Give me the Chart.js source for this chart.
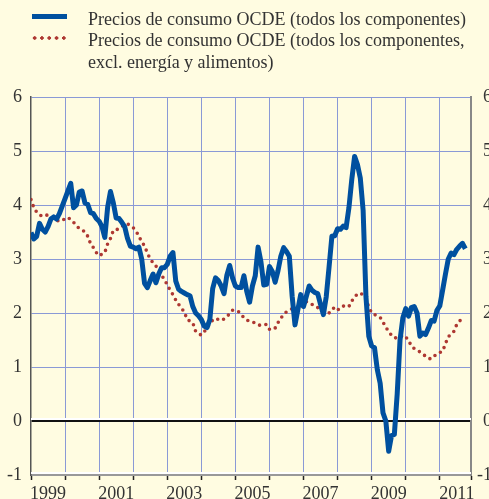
<!DOCTYPE html>
<html>
<head>
<meta charset="utf-8">
<script src="https://cdn.jsdelivr.net/npm/chart.js@4.4.0/dist/chart.umd.min.js"></script>
<style>
  html, body { margin: 0; padding: 0; overflow: hidden; background: #fffce1; }
  #wrap { position: relative; width: 492px; height: 499px; }
  #legend { position: absolute; left: 0; top: 0; width: 489px; height: 80px;
    font-family: "Liberation Serif", "DejaVu Serif", serif; font-size: 18px; color: #333; }
  .swatch-blue { position: absolute; left: 32px; top: 14px; width: 35px; height: 5px; background: #00509f; }
  .swatch-red { position: absolute; left: 31px; top: 35.5px; width: 36px; height: 4.5px;
    background-image: radial-gradient(circle, #ae3832 1.7px, transparent 2.1px); background-size: 7.3px 4.5px; }
  .legend-text { position: absolute; left: 88px; top: 8.5px; line-height: 21.7px; white-space: nowrap; }
</style>
</head>
<body>
<div id="wrap">
  <canvas id="cpiChart" width="492" height="499"></canvas>
  <div id="legend">
    <div class="swatch-blue"></div>
    <div class="swatch-red"></div>
    <div class="legend-text">
      Precios de consumo OCDE (todos los componentes)<br>
      Precios de consumo OCDE (todos los componentes,<br>
      excl. energía y alimentos)
    </div>
  </div>
</div>
<script>
// monthly values, January 1999 onwards (annual % change)
const headline = [
  3.49, 3.37, 3.42, 3.66, 3.55, 3.5, 3.6, 3.74, 3.78, 3.74, 3.84, 3.98,
  4.12, 4.26, 4.4, 3.95, 4.0, 4.24, 4.26, 4.04, 4.01, 3.86, 3.84, 3.75,
  3.7, 3.6, 3.4, 3.96, 4.25, 4.04, 3.76, 3.75, 3.68, 3.6, 3.38, 3.24,
  3.22, 3.19, 3.22, 3.0, 2.55, 2.47, 2.6, 2.72, 2.56, 2.72, 2.84, 2.84,
  2.9, 3.05, 3.12, 2.59, 2.44, 2.4, 2.37, 2.34, 2.32, 2.12, 2.0, 1.95,
  1.88, 1.76, 1.73, 1.88, 2.45, 2.65, 2.6, 2.5, 2.36, 2.7, 2.88, 2.65,
  2.5, 2.47, 2.47, 2.69, 2.4, 2.2, 2.5, 2.69, 3.22, 2.95, 2.52, 2.53,
  2.86, 2.77, 2.57, 2.78, 3.05, 3.21, 3.14, 3.05, 2.31, 1.78, 2.06, 2.34,
  2.12, 2.31, 2.5, 2.42, 2.38, 2.36, 2.16, 1.97, 2.3, 2.85, 3.42, 3.43,
  3.56, 3.55, 3.61, 3.58, 3.95, 4.47, 4.9, 4.75, 4.5, 3.9, 2.3, 1.57,
  1.39, 1.36, 0.95, 0.7, 0.15, 0.0, -0.56, -0.27, -0.25, 0.5, 1.5, 1.91,
  2.08, 1.94, 2.1, 2.12, 2.0, 1.57, 1.63, 1.6, 1.72, 1.86, 1.85, 2.05,
  2.13, 2.42, 2.72, 3.0, 3.11, 3.08, 3.18, 3.24, 3.29, 3.19
];
const core = [
  4.1, 3.95, 3.87, 3.82, 3.79, 3.8, 3.82, 3.79, 3.75, 3.72, 3.7, 3.71,
  3.75, 3.77, 3.73, 3.68, 3.61, 3.57, 3.54, 3.5, 3.42, 3.28, 3.21, 3.12,
  3.06, 3.09, 3.12, 3.28, 3.38, 3.53, 3.54, 3.56, 3.6, 3.64, 3.65, 3.62,
  3.58, 3.52, 3.42, 3.32, 3.24, 3.11, 3.0, 2.93, 2.87, 2.8, 2.71, 2.61,
  2.53, 2.42, 2.34, 2.24, 2.16, 2.09, 2.02, 1.88, 1.85, 1.82, 1.66, 1.62,
  1.59, 1.65, 1.72, 1.8, 1.87, 1.9, 1.88, 1.86, 1.89, 1.93, 1.99, 2.05,
  2.05, 2.03, 1.98, 1.91, 1.87, 1.85, 1.84, 1.81, 1.78, 1.77, 1.78, 1.79,
  1.7, 1.69, 1.72, 1.82, 1.9, 1.98, 2.02, 2.05, 2.08, 2.11, 2.1, 2.08,
  2.17, 2.21, 2.19, 2.16, 2.12, 2.1, 2.08, 2.05, 2.02, 2.0, 2.06, 2.11,
  2.06, 2.08, 2.13, 2.11, 2.12, 2.22, 2.3, 2.35, 2.37, 2.33, 2.25, 2.11,
  2.0, 1.97, 1.95, 1.92, 1.83, 1.74, 1.65, 1.59, 1.54, 1.54, 1.55, 1.59,
  1.56, 1.49, 1.39, 1.34, 1.31, 1.28, 1.24, 1.2, 1.16, 1.15, 1.2, 1.24,
  1.27, 1.29, 1.43, 1.56, 1.61, 1.66, 1.79, 1.85, 1.91
];
const yearLabels = ["1999", "2001", "2003", "2005", "2007", "2009", "2011"];
const yTicks = [-1, 0, 1, 2, 3, 4, 5, 6];

const GRID = "#8a99d6";
const FONT = { family: "'Liberation Serif', 'DejaVu Serif', serif", size: 18 };
const LAST_MONTH = 155;

// white highlight lines above the zero line and the bottom axis
const axisHighlights = {
  id: "axisHighlights",
  beforeDatasetsDraw(chart) {
    const { ctx, chartArea, scales } = chart;
    const y0 = scales.y.getPixelForValue(0);
    ctx.save();
    ctx.strokeStyle = "#ffffff";
    ctx.lineWidth = 2;
    ctx.beginPath();
    ctx.moveTo(chartArea.left, y0 - 2);
    ctx.lineTo(chartArea.right, y0 - 2);
    ctx.moveTo(chartArea.left, chartArea.bottom - 2);
    ctx.lineTo(chartArea.right, chartArea.bottom - 2);
    ctx.stroke();
    ctx.restore();
  },
};

const ctx = document.getElementById("cpiChart").getContext("2d");
new Chart(ctx, {
  type: "line",
  data: {
    datasets: [
      {
        label: "Precios de consumo OCDE (todos los componentes)",
        data: headline.map((v, i) => ({ x: i, y: v })),
        borderColor: "#00509f",
        borderWidth: 5,
        borderJoinStyle: "round",
        pointRadius: 0,
        tension: 0,
        order: 1,
      },
      {
        label: "Precios de consumo OCDE (todos los componentes, excl. energía y alimentos)",
        data: core.map((v, i) => ({ x: i, y: v })),
        borderColor: "#ae3832",
        borderWidth: 3.6,
        borderDash: [0, 6.4],
        borderCapStyle: "round",
        pointRadius: 0,
        tension: 0,
        order: 2,
      },
    ],
  },
  options: {
    responsive: false,
    devicePixelRatio: 1,
    animation: false,
    layout: { padding: { top: 97, left: 0, right: 0, bottom: 0 } },
    plugins: { legend: { display: false }, tooltip: { enabled: false } },
    scales: {
      x: {
        type: "linear",
        min: 0,
        max: LAST_MONTH,
        afterBuildTicks: (scale) => {
          const t = [];
          for (let m = 0; m <= 150; m += 6) t.push({ value: m });
          t.push({ value: LAST_MONTH });
          scale.ticks = t;
        },
        afterFit: (scale) => { scale.height = 24; },
        border: { color: "#999", width: 2 },
        grid: {
          color: (c) => {
            const v = c.tick && c.tick.value;
            return v % 12 === 0 && v > 0 && v < LAST_MONTH ? GRID : "transparent";
          },
          tickColor: (c) => {
            const v = c.tick && c.tick.value;
            return v % 12 === 0 || v === LAST_MONTH ? "#222" : "transparent";
          },
          tickLength: 5,
          tickWidth: 1.5,
        },
        ticks: {
          autoSkip: false,
          maxRotation: 0,
          padding: 3,
          color: "#333",
          font: FONT,
          callback: (v) => (v % 24 === 6 ? yearLabels[(v - 6) / 24] : ""),
        },
      },
      y: {
        position: "left",
        min: -1,
        max: 6,
        afterBuildTicks: (scale) => { scale.ticks = yTicks.map((v) => ({ value: v })); },
        afterFit: (scale) => { scale.width = 31; },
        border: { color: "#555", width: 1.5 },
        grid: {
          color: (c) => (c.tick.value === 0 ? "#111" : c.tick.value === -1 ? "transparent" : GRID),
          lineWidth: (c) => (c.tick.value === 0 ? 2 : 1),
          drawTicks: false,
        },
        ticks: { padding: 9, color: "#333", font: FONT },
      },
      y2: {
        position: "right",
        min: -1,
        max: 6,
        afterBuildTicks: (scale) => { scale.ticks = yTicks.map((v) => ({ value: v })); },
        afterFit: (scale) => { scale.width = 21; },
        border: { color: "#888", width: 2 },
        grid: { drawOnChartArea: false, drawTicks: false },
        ticks: { crossAlign: "far", color: "#333", font: FONT },
      },
    },
  },
  plugins: [axisHighlights],
});
</script>
</body>
</html>
